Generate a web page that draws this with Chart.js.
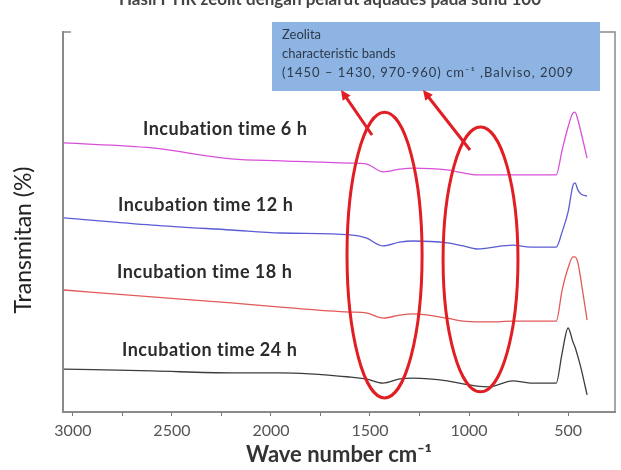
<!DOCTYPE html>
<html>
<head>
<meta charset="utf-8">
<script src="https://cdn.jsdelivr.net/npm/chart.js@4.4.0/dist/chart.umd.min.js"></script>
<style>
  body { margin: 0; background: #fff; }
  canvas { display: block; }
</style>
</head>
<body>
<canvas id="ftirChart" width="621" height="470"></canvas>
<script>
//wave number points (cm-1)
const waveNum = [3045, 2600, 2200, 1950, 1600, 1520, 1434, 1350, 1283, 1110, 1030, 960, 900, 780, 690, 600, 560, 530, 500, 475, 465, 450, 435, 404];
//transmitan per incubation time (arbitrary, stacked)
const t6h  = [70.8, 69.5, 66.6, 66.1, 65.5, 65.3, 63.2, 63.9, 64.2, 63.7, 62.9, 62.4, 62.4, 62.4, 62.4, 62.4, 62.4, 68.9, 75.0, 78.7, 78.9, 76.8, 73.7, 66.8];
const t12h = [51.1, 49.2, 47.9, 47.1, 46.6, 45.8, 43.7, 44.7, 45.0, 44.5, 43.7, 42.9, 43.2, 43.9, 43.4, 43.4, 43.4, 47.4, 52.6, 59.7, 60.3, 58.4, 57.4, 56.8];
const t18h = [32.1, 30.3, 28.7, 27.6, 26.3, 26.1, 24.7, 25.5, 25.8, 24.7, 23.9, 23.7, 23.7, 23.9, 23.9, 23.9, 23.9, 32.1, 37.9, 40.8, 40.8, 39.2, 34.7, 24.2];
const t24h = [11.3, 10.8, 10.3, 10.3, 9.2, 8.7, 7.6, 8.7, 8.9, 8.2, 7.4, 6.8, 6.6, 8.2, 7.6, 7.6, 7.6, 15.5, 22.1, 18.4, 17.1, 14.5, 11.6, 4.5];
//labels
const seriesNames = ["Incubation time 6 h", "Incubation time 12 h", "Incubation time 18 h", "Incubation time 24 h"];
const xTicks = [3000, 2500, 2000, 1500, 1000, 500];
const xMinor = [2750, 2250, 1750, 1250, 750];
const boxLines = ["Zeolita", "characteristic bands", "(1450 \u2013 1430, 970-960) cm\u207B\u00B9 ,Balviso, 2009"];
const topTitle = "Hasil FTIR zeolit dengan pelarut aquades pada suhu 100";

const ctx = document.getElementById("ftirChart").getContext("2d");
const colors = ["#d94fd9", "#5b5bd4", "#e25a5a", "#3c3c3c"];
const allSeries = [t6h, t12h, t18h, t24h];

//annotations: text, ellipses, arrows, blue box
const extras = {
  id: "extras",
  afterDraw(chart) {
    const c = chart.ctx;
    const a = chart.chartArea;
    const xs = chart.scales.x, ys = chart.scales.y;
    c.save();
    //frame right + top stubs
    c.strokeStyle = "#8a8a8a";
    c.lineWidth = 1.5;
    c.beginPath();
    c.moveTo(a.left, a.top); c.lineTo(a.left + 8, a.top);
    c.moveTo(a.right - 15, a.top); c.lineTo(a.right, a.top); c.lineTo(a.right, a.bottom);
    c.stroke();

    //series labels
    const labPos = [[143, 129], [118, 205], [117, 272], [122, 350]];
    c.fillStyle = "#2b2b2b";
    c.font = "bold 18px Lato";
    c.letterSpacing = "0.5px";
    c.textBaseline = "middle";
    seriesNames.forEach((s, i) => c.fillText(s, labPos[i][0], labPos[i][1]));
    c.letterSpacing = "0px";

    //y title
    c.save();
    c.translate(24, 240);
    c.rotate(-Math.PI / 2);
    c.textAlign = "center";
    c.font = "23px Lato";
    c.fillStyle = "#222";
    c.fillText("Transmitan (%)", 0, 0);
    c.restore();

    //cut off title at the top
    c.textAlign = "center";
    c.textBaseline = "alphabetic";
    c.font = "bold 17px Lato";
    c.fillStyle = "#444";
    c.fillText(topTitle, 330, 5);

    //ellipses round the bands
    const bands = [[1616, 1237, 78.9, 3.7], [1131, 753, 75.0, 5.3]];
    c.strokeStyle = "#e01e24";
    c.lineWidth = 3;
    bands.forEach(b => {
      const x1 = xs.getPixelForValue(b[0]), x2 = xs.getPixelForValue(b[1]);
      const y1 = ys.getPixelForValue(b[2]), y2 = ys.getPixelForValue(b[3]);
      c.beginPath();
      c.ellipse((x1 + x2) / 2, (y1 + y2) / 2, Math.abs(x2 - x1) / 2, Math.abs(y2 - y1) / 2, 0, 0, Math.PI * 2);
      c.stroke();
    });

    //blue box
    c.fillStyle = "#8eb4e3";
    c.fillRect(272, 22, 328, 69);
    c.fillStyle = "#2d3a4a";
    c.font = "13px Lato";
    c.textAlign = "left";
    c.textBaseline = "middle";
    c.fillText(boxLines[0], 282, 35);
    c.fillText(boxLines[1], 282, 54);
    c.letterSpacing = "1px";
    c.fillText(boxLines[2], 282, 73);
    c.letterSpacing = "0px";

    //arrows
    const arrows = [[372, 135, 341, 90], [470, 150, 423, 90]];
    c.strokeStyle = "#e01e24";
    c.fillStyle = "#e01e24";
    c.lineWidth = 3;
    arrows.forEach(ar => {
      const ang = Math.atan2(ar[3] - ar[1], ar[2] - ar[0]);
      c.beginPath();
      c.moveTo(ar[0], ar[1]);
      c.lineTo(ar[2] - 6 * Math.cos(ang), ar[3] - 6 * Math.sin(ang));
      c.stroke();
      c.beginPath();
      c.moveTo(ar[2], ar[3]);
      c.lineTo(ar[2] - 11 * Math.cos(ang - 0.45), ar[3] - 11 * Math.sin(ang - 0.45));
      c.lineTo(ar[2] - 11 * Math.cos(ang + 0.45), ar[3] - 11 * Math.sin(ang + 0.45));
      c.closePath();
      c.fill();
    });
    c.restore();
  }
};

const chart = new Chart(ctx, {
  type: "line",
  data: {
    datasets: allSeries.map((s, i) => ({
      label: seriesNames[i],
      data: waveNum.map((w, j) => ({ x: w, y: s[j] })),
      borderColor: colors[i],
      borderWidth: 1.3,
      pointRadius: 0,
      fill: false,
      cubicInterpolationMode: "monotone"
    }))
  },
  options: {
    responsive: false,
    animation: false,
    layout: { padding: { top: 32, right: 6, left: 0, bottom: 0 } },
    plugins: { legend: { display: false }, tooltip: { enabled: false } },
    scales: {
      x: {
        type: "linear",
        reverse: true,
        min: 263,
        max: 3050,
        afterFit(s) { s.height = 58; },
        //major + minor ticks
        afterBuildTicks(s) {
          s.ticks = xTicks.concat(xMinor).sort((p, q) => q - p).map(v => ({ value: v }));
        },
        ticks: {
          autoSkip: false,
          maxRotation: 0,
          padding: 5,
          color: "#555",
          font: { family: "Lato", size: 16 },
          callback: v => xTicks.includes(Math.round(v)) ? String(Math.round(v)) : ""
        },
        grid: { display: true, drawOnChartArea: false, drawTicks: true, tickLength: 4, color: "#777" },
        border: { display: true, color: "#8a8a8a", width: 2 },
        title: {
          display: true,
          text: "Wave number cm\u207B\u00B9",
          color: "#333",
          font: { family: "Lato", size: 22, weight: "bold" },
          padding: { top: 0, bottom: 2 }
        }
      },
      y: {
        min: 0,
        max: 100,
        afterFit(s) { s.width = 63; },
        ticks: { display: false },
        grid: { display: false },
        border: { display: true, color: "#8a8a8a", width: 2 }
      }
    }
  },
  plugins: [extras]
});
</script>
</body>
</html>
